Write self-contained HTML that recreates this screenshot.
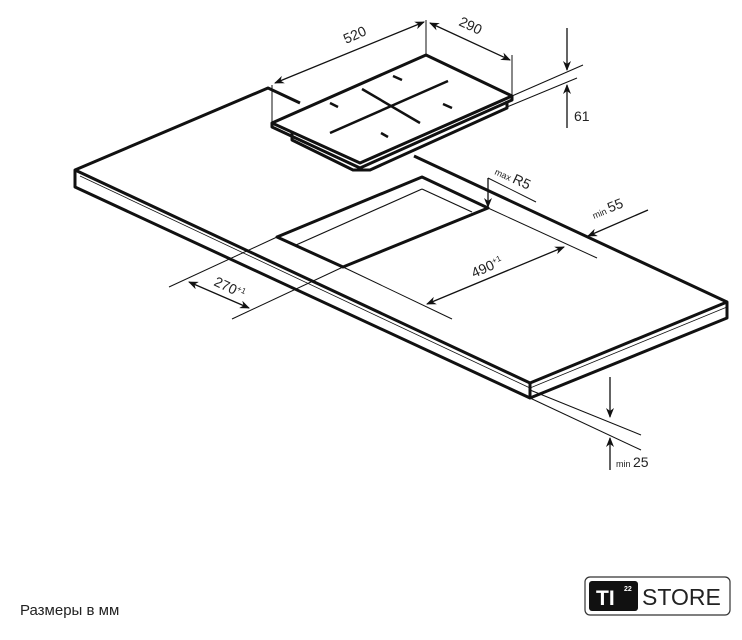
<!DOCTYPE html>
<html><head><meta charset="utf-8"><style>
html,body{margin:0;padding:0;background:#fff;}
svg{display:block;}
text{font-family:"Liberation Sans",sans-serif;fill:#222;}
</style></head><body>
<svg width="742" height="640" viewBox="0 0 742 640" xmlns="http://www.w3.org/2000/svg">
<defs>
<marker id="a" markerWidth="10" markerHeight="8" refX="9" refY="4" orient="auto-start-reverse" markerUnits="userSpaceOnUse"><path d="M0,0 L10,4 L0,8 L3,4 Z" fill="#111"/></marker>
</defs>
<g fill="none" stroke="#111" stroke-linejoin="round">
<g stroke-width="3">
<polyline points="300,103 268,88 75,170 75,187 530,398 727,318 727,302 414,156"/>
<polyline points="75,170 530,383 727,302"/>
<line x1="530" y1="383" x2="530" y2="398"/>
<polygon points="422,177 488,208 343,267 277,237"/>
</g>
<g stroke-width="1.2">
<line x1="422" y1="189" x2="296" y2="245"/>
<line x1="422" y1="189" x2="472" y2="212"/>
<line x1="530" y1="388" x2="727" y2="307" stroke-width="0.8"/>
<line x1="80" y1="176" x2="530" y2="388" stroke-width="0.8"/>
</g>
<g stroke-width="3">
<polygon points="272,123 426,55 512,96 360,163"/>
<polyline points="272,123 272,127 360,168 512,100 512,96"/>
<polyline points="292,132 292,140 353,170 370,170 507,108 507,101"/>
</g>
<g stroke-width="2.5">
<line x1="362" y1="89" x2="420" y2="123"/>
<line x1="330" y1="133" x2="448" y2="81"/>
<line x1="393" y1="76" x2="402" y2="80"/>
<line x1="330" y1="103" x2="338" y2="107"/>
<line x1="443" y1="104" x2="452" y2="108"/>
<line x1="381" y1="133" x2="388" y2="137"/>
</g>
<g stroke-width="1">
<line x1="272" y1="85" x2="272" y2="123"/>
<line x1="426" y1="20" x2="426" y2="55"/>
<line x1="512" y1="55" x2="512" y2="96"/>
<line x1="512" y1="96" x2="583" y2="65"/>
<line x1="507" y1="107" x2="577" y2="78"/>
<line x1="277" y1="237" x2="169" y2="287"/>
<line x1="343" y1="267" x2="232" y2="319"/>
<line x1="488" y1="208" x2="597" y2="258"/>
<line x1="343" y1="267" x2="452" y2="319"/>
<line x1="488" y1="178" x2="536" y2="202"/>
<line x1="530" y1="390" x2="641" y2="435"/>
<line x1="530" y1="398" x2="641" y2="450"/>
</g>
<g stroke-width="1.3">
<line x1="275" y1="83" x2="424" y2="22" marker-start="url(#a)" marker-end="url(#a)"/>
<line x1="430" y1="23" x2="510" y2="60" marker-start="url(#a)" marker-end="url(#a)"/>
<line x1="567" y1="28" x2="567" y2="70" marker-end="url(#a)"/>
<line x1="567" y1="128" x2="567" y2="85" marker-end="url(#a)"/>
<line x1="189" y1="282" x2="249" y2="308" marker-start="url(#a)" marker-end="url(#a)"/>
<line x1="427" y1="304" x2="564" y2="247" marker-start="url(#a)" marker-end="url(#a)"/>
<line x1="488" y1="178" x2="488" y2="207" marker-end="url(#a)"/>
<line x1="648" y1="210" x2="588" y2="236" marker-end="url(#a)"/>
<line x1="610" y1="377" x2="610" y2="417" marker-end="url(#a)"/>
<line x1="610" y1="470" x2="610" y2="438" marker-end="url(#a)"/>
</g>
</g>
<g font-size="14">
<text transform="translate(346,44) rotate(-24)">520</text>
<text transform="translate(458,25) rotate(25)">290</text>
<text x="574" y="121">61</text>
<text transform="translate(213,285) rotate(25)">270<tspan font-size="8" dy="-5">+1</tspan></text>
<text transform="translate(474,278) rotate(-24)">490<tspan font-size="8" dy="-5">+1</tspan></text>
<text transform="translate(494,174) rotate(25)"><tspan font-size="9">max </tspan>R5</text>
<text transform="translate(594,219) rotate(-22)"><tspan font-size="9">min </tspan>55</text>
<text x="616" y="467"><tspan font-size="9">min </tspan>25</text>
<text x="20" y="615" font-size="15">Размеры в мм</text>
</g>
<rect x="585" y="577" width="145" height="38" rx="5" fill="none" stroke="#333" stroke-width="1.2"/>
<rect x="589" y="581" width="49" height="30" rx="3" fill="#111"/>
<text x="596" y="605" font-size="21" font-weight="bold" style="fill:#fff">TI</text>
<text x="624" y="591" font-size="7" font-weight="bold" style="fill:#fff">22</text>
<text x="642" y="605" font-size="23">STORE</text>
</svg>
</body></html>
